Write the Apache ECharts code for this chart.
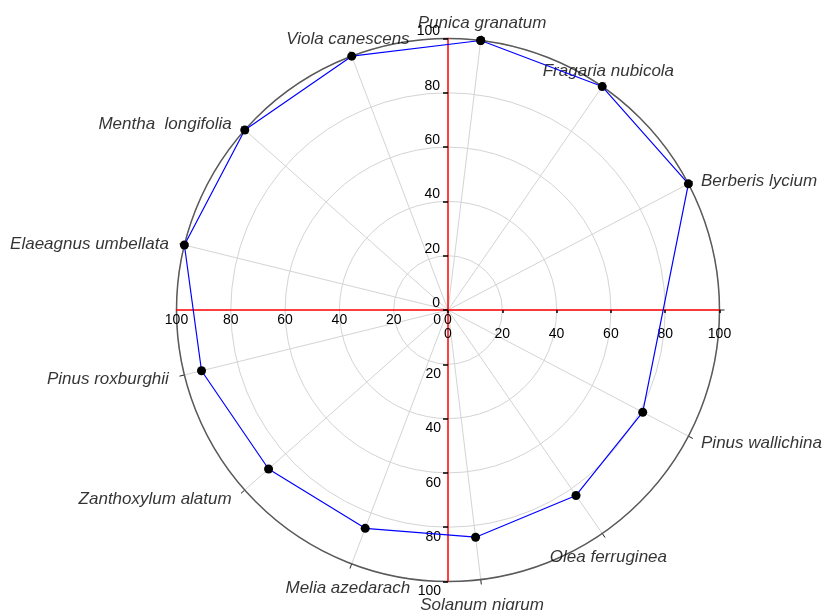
<!DOCTYPE html>
<html>
<head>
<meta charset="utf-8">
<script src="https://cdn.jsdelivr.net/npm/echarts@6/dist/echarts.min.js"></script>
<style>
html, body { margin: 0; padding: 0; background: #fff; }
#chart { width: 824px; height: 610px; }
</style>
</head>
<body>
<div id="chart"></div>
<script>
// species round the circle, clockwise from the top ('' = empty slot at 3 o'clock)
var species = ['Punica granatum', 'Fragaria nubicola', 'Berberis lycium', '', 'Pinus wallichina',
    'Olea ferruginea', 'Solanum nigrum', 'Melia azedarach', 'Zanthoxylum alatum',
    'Pinus roxburghii', 'Elaeagnus umbellata', 'Mentha  longifolia', 'Viola canescens'];
var scores = [100, 100, 100, null, 81, 83, 84.3, 86, 88.3, 93.5, 100, 100, 100];
var radiusTicks = [0, 20, 40, 60, 80, 100];

var font = '"Liberation Sans", Arial, sans-serif';
var center = [448, 310];
var radius = 271.5;
var step = 360 / species.length;
var rMax = radiusTicks[radiusTicks.length - 1];

// closed polygon
var lineData = [];
scores.forEach(function (v, i) {
    if (v !== null) lineData.push([v, i]);
});
lineData.push(lineData[0]);

// species names sit just outside the circle
var labelData = [];
species.forEach(function (name, i) {
    if (!name) return;
    var a = (i + 0.25) * step * Math.PI / 180;
    var sx = Math.sin(a), cy = Math.cos(a);
    var ha = sx > 0.6 ? 'left' : (sx < -0.6 ? 'right' : 'center');
    var va = cy > 0.7 ? 'bottom' : (cy < -0.7 ? 'top' : 'middle');
    labelData.push({
        name: name,
        value: [rMax * 1.04, i],
        label: {
            align: ha,
            verticalAlign: va,
            offset: [ha === 'left' ? 3 : (ha === 'right' ? -5 : 0), va === 'top' ? 6 : 2]
        }
    });
});

// the four red axes (up, right, left, down)
var redAxes = [
    { angle: 90, label: { margin: 8, align: 'right', verticalAlign: 'bottom' }, tick: { length: 5 } },
    { angle: 0, label: { margin: -17, align: 'center', verticalAlign: 'top' }, tick: { length: -3 } },
    { angle: 180, label: { margin: 3, align: 'center', verticalAlign: 'top' }, tick: { show: false } },
    { angle: 270, label: { margin: -7, align: 'right', verticalAlign: 'top', padding: [3, 0, 0, 0] }, tick: { length: -5 } }
];

var polar = [{ center: center, radius: radius }];
var angleAxis = [{
    polarIndex: 0,
    type: 'category',
    data: species,
    startAngle: 90 + 0.25 * step,
    clockwise: true,
    boundaryGap: true,
    axisLine: { lineStyle: { color: '#5a5a5a', width: 1.5 } },
    axisTick: { show: true, alignWithLabel: true, length: 5, lineStyle: { color: '#222' } },
    axisLabel: { show: false },
    splitLine: { show: true, lineStyle: { color: '#d4d4d4', width: 1 } }
}];
var radiusAxis = [{
    polarIndex: 0,
    min: 0, max: rMax, interval: radiusTicks[1] - radiusTicks[0],
    axisLine: { show: false },
    axisTick: { show: false },
    axisLabel: { show: false },
    splitLine: { show: true, lineStyle: { color: '#d4d4d4', width: 1 } }
}];

redAxes.forEach(function (ax, k) {
    polar.push({ center: center, radius: radius });
    angleAxis.push({ polarIndex: k + 1, type: 'value', min: 0, max: 360, startAngle: ax.angle, show: false });
    radiusAxis.push({
        polarIndex: k + 1,
        min: 0, max: rMax, interval: radiusTicks[1] - radiusTicks[0],
        z: 5,
        axisLine: { lineStyle: { color: '#ff0000', width: 1.5 } },
        axisTick: Object.assign({ show: true, lineStyle: { color: '#000', width: 1.5 } }, ax.tick),
        axisLabel: Object.assign({ color: '#000', fontSize: 14, fontFamily: font }, ax.label),
        splitLine: { show: false }
    });
});

var chart = echarts.init(document.getElementById('chart'));
chart.setOption({
    backgroundColor: '#fff',
    animation: false,
    polar: polar,
    angleAxis: angleAxis,
    radiusAxis: radiusAxis,
    series: [
        {
            type: 'line',
            coordinateSystem: 'polar',
            polarIndex: 0,
            data: lineData,
            clip: false,
            z: 10,
            symbol: 'circle',
            symbolSize: 9,
            itemStyle: { color: '#000' },
            lineStyle: { color: '#0000ff', width: 1.2 }
        },
        {
            type: 'scatter',
            coordinateSystem: 'polar',
            polarIndex: 0,
            data: labelData,
            clip: false,
            silent: true,
            symbolSize: 0,
            label: {
                show: true,
                position: 'inside',
                formatter: '{b}',
                fontStyle: 'italic',
                fontSize: 17,
                fontFamily: font,
                color: '#000'
            }
        }
    ]
});
</script>
</body>
</html>
